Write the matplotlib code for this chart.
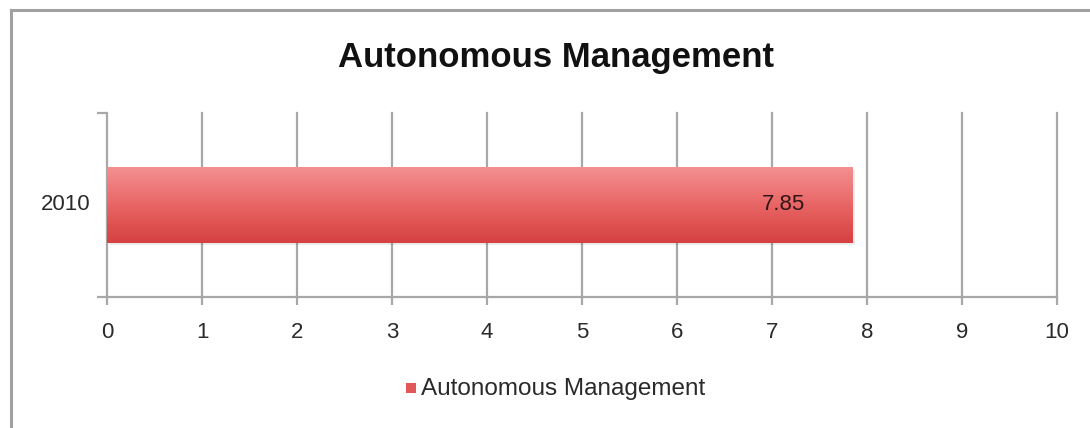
import numpy as np
import matplotlib
matplotlib.use("Agg")
import matplotlib.pyplot as plt
from matplotlib.colors import LinearSegmentedColormap
from matplotlib.patches import Rectangle

categories = ["2010"]
values = [7.85]
series_name = "Autonomous Management"
title = "Autonomous Management"
x_ticks = list(range(0, 11))

plt.rcParams["font.family"] = ["Liberation Sans", "DejaVu Sans"]

W, H = 1090, 428
fig = plt.figure(figsize=(W / 100, H / 100), dpi=100)
fig.patch.set_facecolor("white")

# outer chart frame (top and left edges visible)
fig.add_artist(plt.Line2D([11 / W, 11 / W], [0, 1 - 10 / H], transform=fig.transFigure,
                          color="#a0a0a0", lw=2.2))
fig.add_artist(plt.Line2D([11 / W, 1], [1 - 10 / H, 1 - 10 / H], transform=fig.transFigure,
                          color="#a0a0a0", lw=2.2))

ax = fig.add_axes([107 / W, 1 - 297 / H, (1057 - 107) / W, (297 - 113) / H])
ax.set_xlim(0, 10)
ax.set_ylim(-0.5, 0.5)

grid_c = "#a8a8a8"
text_c = "#2a2a2a"
for s in ["top", "right"]:
    ax.spines[s].set_visible(False)
for s in ["left", "bottom"]:
    ax.spines[s].set_color(grid_c)
    ax.spines[s].set_linewidth(1.6)

small = 16
ax.set_xticks(x_ticks)
ax.set_xticklabels([str(t) for t in x_ticks], fontsize=small, color=text_c)
ax.tick_params(axis="x", length=6, width=1.6, color=grid_c, pad=12)
for t in x_ticks[1:]:
    ax.axvline(t, color=grid_c, lw=1.6, zorder=1, clip_on=False)

ax.set_yticks([-0.5, 0.5])
ax.set_yticklabels(["", ""])
ax.tick_params(axis="y", length=7, width=1.6, color=grid_c)
for i, c in enumerate(categories):
    ax.text(-17 / 95, i, c, ha="right", va="center", fontsize=small, color=text_c)

# gradient-filled bar
cmap = LinearSegmentedColormap.from_list("bar", ["#d64040", "#e86565", "#f49090"])
bar_h = 0.41
grad = np.linspace(0, 1, 256).reshape(-1, 1)
for i, v in enumerate(values):
    y0, y1 = i - bar_h / 2, i + bar_h / 2
    sh = Rectangle((0.02, y0 - 0.015), v, bar_h, facecolor="#000000", alpha=0.08,
                   edgecolor="none", zorder=2)
    ax.add_patch(sh)
    bar = ax.barh(i, v, height=bar_h, color="none", edgecolor="none", zorder=3)[0]
    im = ax.imshow(grad, cmap=cmap, aspect="auto", extent=[0, v, y0, y1],
                   origin="lower", zorder=3)
    im.set_clip_path(bar)
    ax.annotate(f"{v:.2f}", xy=(v, i), xytext=(-34, 0), textcoords="offset points",
                ha="right", va="center", fontsize=small, color="#331515", zorder=4)

ax.set_xlim(0, 10)
ax.set_ylim(-0.5, 0.5)

fig.text(556 / W, 1 - 67 / H, title, ha="center", va="baseline", fontsize=25,
         fontweight="bold", color="#111111")

# legend
fig.patches.append(Rectangle((406 / W, 1 - 393 / H), 10 / W, 10 / H, transform=fig.transFigure,
                             facecolor="#e05858", edgecolor="none"))
fig.text(421 / W, 1 - 389 / H, series_name, ha="left", va="center", fontsize=17.5,
         color=text_c)

fig.savefig("out.png", dpi=100, facecolor="white")
